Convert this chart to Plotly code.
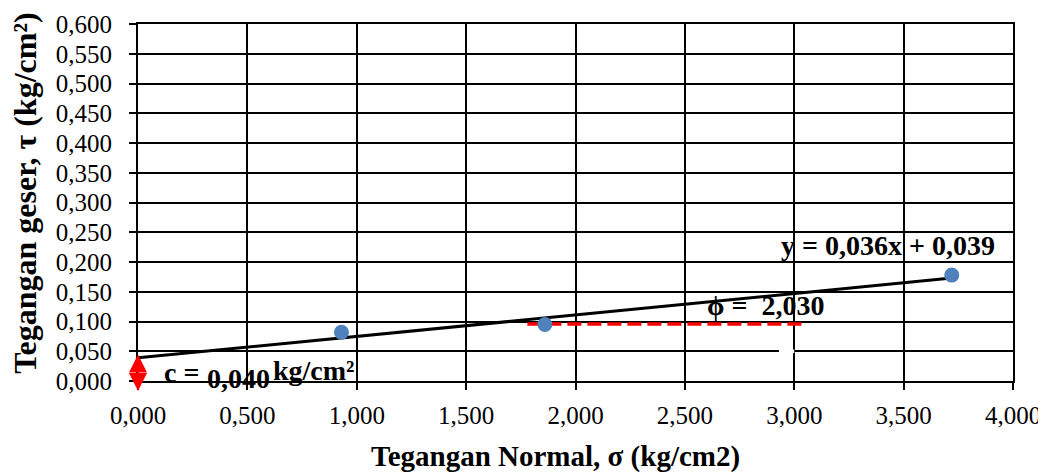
import plotly.graph_objects as go

# data
sigma = [0.930, 1.860, 3.720]
tau = [0.082, 0.095, 0.178]
slope = 0.036
intercept = 0.039
c_val = 0.040
phi_val = 2.030
phi_line_x = [1.78, 3.05]
phi_line_y = [0.096, 0.096]
trend_x = [0.0, 3.72]
trend_y = [intercept + slope * v for v in trend_x]

font = "Liberation Serif, Times New Roman, serif"

fig = go.Figure()

fig.add_trace(go.Scatter(x=trend_x, y=trend_y, mode="lines",
                         line=dict(color="black", width=3), showlegend=False))
fig.add_trace(go.Scatter(x=phi_line_x, y=phi_line_y, mode="lines",
                         line=dict(color="#ff0000", width=3.5, dash="14px,6px"),
                         showlegend=False))
fig.add_trace(go.Scatter(x=sigma, y=tau, mode="markers",
                         marker=dict(color="#4f81bd", size=15), showlegend=False))

# red double arrow for cohesion (two arrows from the middle)
for tip, tail in [(0.074, 17), (-0.028, -20)]:
    fig.add_annotation(x=0, y=tip, xref="x", yref="paper", ax=0, ay=tail,
                       showarrow=True, arrowhead=2, arrowsize=1.2,
                       arrowwidth=3, arrowcolor="#ff0000", text="")

# gap in the 0.050 gridline (text box in original)
fig.add_shape(type="rect", xref="x", yref="y", x0=2.93, x1=3.0, y0=0.047, y1=0.053,
              fillcolor="white", line=dict(width=0), layer="above")

fs = 28
fig.add_annotation(x=0.11, y=0.014, xref="x", yref="y", xanchor="left",
                   showarrow=False, text="<b>c = </b>",
                   font=dict(family=font, size=fs, color="black"))
fig.add_annotation(x=0.305, y=0.005, xref="x", yref="y", xanchor="left",
                   showarrow=False, text="<b>%s</b>" % f"{c_val:.3f}".replace(".", ","),
                   font=dict(family=font, size=fs, color="black"))
fig.add_annotation(x=0.61, y=0.017, xref="x", yref="y", xanchor="left",
                   showarrow=False, text="<b>kg/cm²</b>",
                   font=dict(family=font, size=fs, color="black"))
fig.add_annotation(x=2.59, y=0.127, xref="x", yref="y", xanchor="left",
                   showarrow=False,
                   text="<b>ϕ =  %s</b>" % f"{phi_val:.3f}".replace(".", ","),
                   font=dict(family=font, size=fs, color="black"))
fig.add_annotation(x=2.93, y=0.228, xref="x", yref="y", xanchor="left",
                   showarrow=False,
                   text="<b>y = %sx + %s</b>" % (f"{slope:.3f}".replace(".", ","),
                                                 f"{intercept:.3f}".replace(".", ",")),
                   font=dict(family=font, size=fs, color="black"))

# axis titles
fig.add_annotation(x=0.477, y=0, xref="paper", yref="paper", yshift=-75,
                   xanchor="center", yanchor="middle", showarrow=False,
                   text="<b>Tegangan Normal, σ (kg/cm2)</b>",
                   font=dict(family=font, size=29, color="black"))
fig.add_annotation(x=0, y=0.527, xref="paper", yref="paper", xshift=-113,
                   xanchor="center", yanchor="middle", showarrow=False,
                   textangle=-90, text="<b>Tegangan geser, τ (kg/cm²)</b>",
                   font=dict(family=font, size=32, color="black"))

fig.update_xaxes(range=[0, 4.0], dtick=0.5, tickformat=".3f", automargin=False,
                 showgrid=True, gridcolor="black", gridwidth=2,
                 showline=True, linecolor="black", linewidth=2, mirror=True,
                 ticks="outside", ticklen=7, tickwidth=2, tickcolor="black",
                 zeroline=False, ticklabelstandoff=4,
                 tickfont=dict(family=font, size=25, color="black"))
fig.update_yaxes(range=[0, 0.6], dtick=0.05, tickformat=".3f", automargin=False,
                 showgrid=True, gridcolor="black", gridwidth=2,
                 showline=True, linecolor="black", linewidth=2, mirror=True,
                 ticks="outside", ticklen=7, tickwidth=2, tickcolor="black",
                 zeroline=False, ticklabelstandoff=12,
                 tickfont=dict(family=font, size=25, color="black"))

# page body has an 8px margin, so the figure is sized to fit the window
fig.update_layout(width=1038, height=464, separators=",.",
                  margin=dict(l=130, r=33, t=16, b=91),
                  plot_bgcolor="white", paper_bgcolor="white")

fig.write_html("out.html")
